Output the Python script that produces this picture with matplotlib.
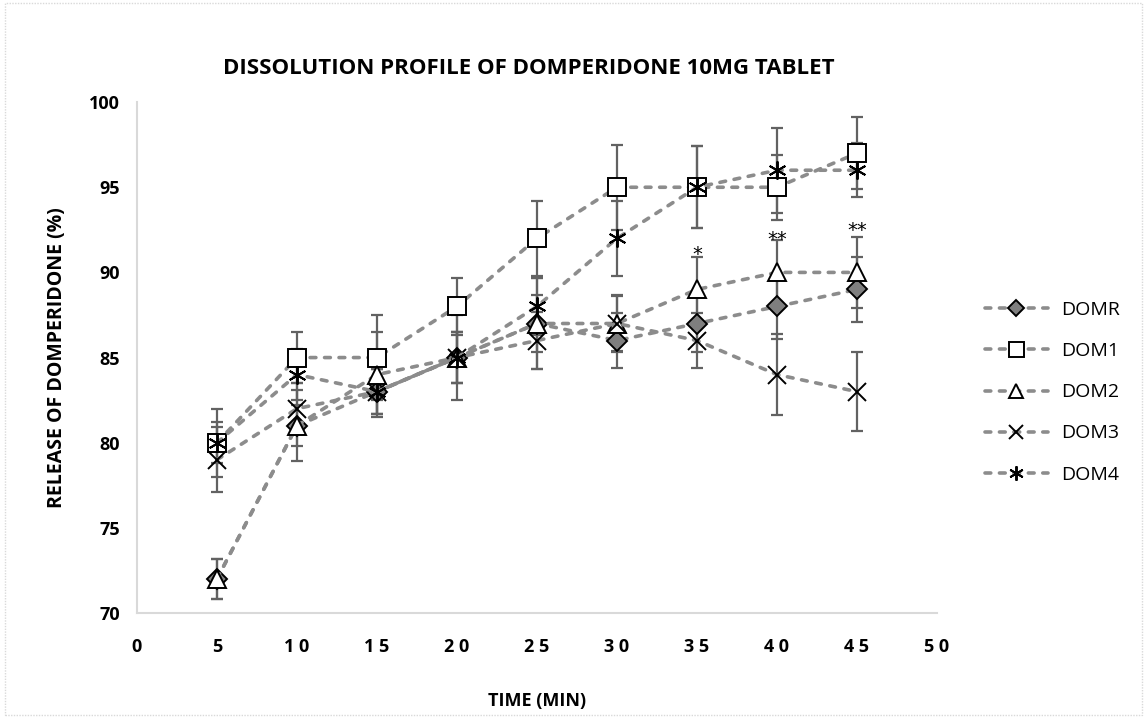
import matplotlib
matplotlib.use("Agg")
import matplotlib.pyplot as plt
from matplotlib.patches import Rectangle

plt.rcParams['font.family'] = ['Open Sans', 'DejaVu Sans']

time = [5, 10, 15, 20, 25, 30, 35, 40, 45]
series_names = ["DOMR", "DOM1", "DOM2", "DOM3", "DOM4"]
domr = [72, 81, 83, 85, 87, 86, 87, 88, 89]
dom1 = [80, 85, 85, 88, 92, 95, 95, 95, 97]
dom2 = [72, 81, 84, 85, 87, 87, 89, 90, 90]
dom3 = [79, 82, 83, 85, 86, 87, 86, 84, 83]
dom4 = [80, 84, 83, 85, 88, 92, 95, 96, 96]
err_domr = [1.2, 1.2, 1.3, 1.5, 1.7, 1.6, 1.7, 1.9, 1.9]
err_dom1 = [2.0, 1.5, 2.5, 1.7, 2.2, 2.5, 2.4, 1.9, 2.1]
err_dom2 = [1.2, 2.1, 2.5, 2.5, 2.7, 1.7, 1.9, 1.9, 2.1]
err_dom3 = [1.9, 1.5, 1.3, 1.5, 1.7, 1.6, 1.6, 2.4, 2.3]
err_dom4 = [1.2, 1.5, 1.3, 1.5, 1.7, 2.2, 2.4, 2.5, 1.6]
# significance marks: (time, label, y)
sig_marks = [(35, "*", 91.3), (40, "**", 92.2), (45, "**", 92.7)]

values = [domr, dom1, dom2, dom3, dom4]
errors = [err_domr, err_dom1, err_dom2, err_dom3, err_dom4]
markers = ["D", "s", "^", "x", (6, 2, 0)]
msizes = [10, 13.5, 13, 13, 13]
faces = ["#7f7f7f", "white", "white", "none", "none"]

line_col = "#8c8c8c"
err_col = "#626262"

fig = plt.figure(figsize=(11.47, 7.18), dpi=100)
ax = fig.add_axes([0.1194, 0.1462, 0.6975, 0.7116])

for name, vals, errs, mk, ms, fc in zip(series_names, values, errors, markers, msizes, faces):
    ax.errorbar(time, vals, yerr=errs, fmt="none", ecolor=err_col,
                elinewidth=1.6, capsize=4.3, capthick=1.6, zorder=2)
    ax.plot(time, vals, linestyle=(0, (1.6, 2.4)), dash_capstyle="round",
            color=line_col, linewidth=2.6,
            marker=mk, markersize=ms, markerfacecolor=fc, markeredgecolor="black",
            markeredgewidth=1.4, label=name, zorder=3)

# solid segment between 15 and 20 min
ax.plot(time[2:4], domr[2:4], color=line_col, linewidth=2.4, zorder=2.5)

for t, txt, yv in sig_marks:
    ax.text(t, yv - 0.25, txt, ha="center", va="center", fontsize=14,
            family="DejaVu Sans", zorder=4)

ax.set_xlim(0, 50)
ax.set_ylim(70, 100)
xt = list(range(0, 51, 5))
ax.set_xticks(xt)
ax.set_xticklabels([" ".join(str(v)) for v in xt], fontweight="bold", fontsize=13)
ax.set_yticks(range(70, 101, 5))
ax.set_yticklabels([str(v) for v in range(70, 101, 5)], fontweight="bold", fontsize=13)
ax.tick_params(length=0, pad=12)
ax.tick_params(axis="x", pad=18)
for s in ["top", "right"]:
    ax.spines[s].set_visible(False)
for s in ["left", "bottom"]:
    ax.spines[s].set_color("#d9d9d9")
    ax.spines[s].set_linewidth(1.5)

ax.set_title("DISSOLUTION PROFILE OF DOMPERIDONE 10MG TABLET", fontweight="bold",
             fontsize=16, pad=20, x=0.49)
ax.set_xlabel("TIME (MIN)", fontweight="bold", fontsize=13, labelpad=26)
ax.set_ylabel("RELEASE OF DOMPERIDONE (%)", fontweight="bold", fontsize=14, labelpad=16)

leg = ax.legend(loc="center left", bbox_to_anchor=(1.05, 0.432), borderaxespad=0,
                frameon=False, fontsize=14, handlelength=3.25, labelspacing=1.19,
                handletextpad=0.7, markerscale=0.8)

fig.patches.append(Rectangle((0.004, 0.004), 0.992, 0.992, transform=fig.transFigure,
                             fill=False, edgecolor="#d9d9d9", linewidth=1,
                             linestyle=(0, (1, 1))))

fig.savefig("out.png", dpi=100)
